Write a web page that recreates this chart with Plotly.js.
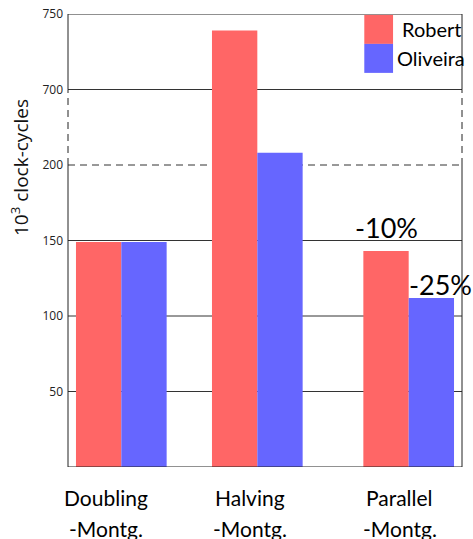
<!DOCTYPE html>
<html>
<head>
<meta charset="utf-8">
<script src="https://cdn.plot.ly/plotly-3.0.1.min.js"></script>
<style>html,body{margin:0;padding:0;background:#fff;}#chart{width:473px;height:539px;}</style>
</head>
<body>
<div id="chart"></div>
<script>
// ---- data ----
const categories = ['Doubling<br>-Montg.', 'Halving<br>-Montg.', 'Parallel<br>-Montg.'];
const seriesNames = ['Robert', 'Oliveira'];
const robert = [149, 739, 143];
const oliveira = [149, 281, 112];
const yTickValues = [50, 100, 150, 200, 700, 750];
const reductionLabels = ['-10%', '-25%'];
const yTitle = '10<sup>3</sup> clock-cycles';

// ---- layout helpers ----
const colors = ['#ff6666', '#6666ff'];
const groupPos = [0, 1, 2.113];
const labelShift = [-15, -7, -9];
const BREAK_LO = 200, BREAK_HI = 700;
function tf(v) {
  if (v <= BREAK_LO) return v;
  if (v <= BREAK_HI) return BREAK_LO + (v - BREAK_LO) * 50 / (BREAK_HI - BREAK_LO);
  return BREAK_LO + 50 + (v - BREAK_HI);
}
const yTop = tf(750);
const labelFont = 'Lato, "Open Sans", sans-serif';

const traces = [robert, oliveira].map((vals, i) => ({
  type: 'bar',
  name: seriesNames[i],
  x: groupPos,
  y: vals.map(tf),
  marker: {color: colors[i], line: {width: 0}},
  hoverinfo: 'skip',
  showlegend: false
}));

const lineCol = '#222';
const gridCol = '#333';
const shapes = [];
[50, 100, 150, 700].forEach(v => shapes.push({type: 'line', xref: 'paper', x0: 0, x1: 1, yref: 'y', y0: tf(v), y1: tf(v), layer: 'below', line: {color: gridCol, width: 1}}));
shapes.push({type: 'line', xref: 'paper', x0: 0, x1: 1, yref: 'y', y0: tf(200), y1: tf(200), layer: 'below', line: {color: gridCol, width: 1, dash: '7px,5px'}});
shapes.push({type: 'line', xref: 'paper', x0: 0, x1: 1, yref: 'y', y0: yTop, y1: yTop, line: {color: lineCol, width: 1}});
shapes.push({type: 'line', xref: 'paper', x0: 0, x1: 1, yref: 'y', y0: 0, y1: 0, line: {color: lineCol, width: 1}});
[0, 1].forEach(px => {
  shapes.push({type: 'line', xref: 'paper', x0: px, x1: px, yref: 'y', y0: 0, y1: tf(200), line: {color: lineCol, width: 1}});
  shapes.push({type: 'line', xref: 'paper', x0: px, x1: px, yref: 'y', y0: tf(200), y1: tf(700), line: {color: lineCol, width: 1, dash: '7px,5px'}});
  shapes.push({type: 'line', xref: 'paper', x0: px, x1: px, yref: 'y', y0: tf(700), y1: yTop, line: {color: lineCol, width: 1}});
});
const legX0 = 0.752, legX1 = 0.825;
const legY = [0.998, 0.934, 0.870];
seriesNames.forEach((n, i) => {
  shapes.push({type: 'rect', xref: 'paper', yref: 'paper', x0: legX0, x1: legX1, y0: legY[i + 1], y1: legY[i], fillcolor: colors[i], line: {width: 0}});
});

const annotations = [];
seriesNames.forEach((n, i) => {
  annotations.push({xref: 'paper', yref: 'paper', x: 0.9225, y: (legY[i] + legY[i + 1]) / 2, text: n, showarrow: false,
    xanchor: 'center', yanchor: 'middle', font: {family: labelFont, size: 20, color: '#000'}});
});
annotations.push({x: groupPos[2] - 1 / 6, y: tf(robert[2]), yshift: 24, text: reductionLabels[0], showarrow: false,
  xanchor: 'center', yanchor: 'middle', font: {family: labelFont, size: 27, color: '#000'}});
annotations.push({x: groupPos[2], y: tf(oliveira[2]), yshift: 13, text: reductionLabels[1], showarrow: false,
  xanchor: 'left', yanchor: 'middle', xshift: -2, font: {family: labelFont, size: 27, color: '#000'}});
// category labels (two lines each)
categories.forEach((c, i) => {
  c.split('<br>').forEach((line, j) => {
    annotations.push({x: groupPos[i], xshift: labelShift[i], yref: 'paper', y: 0, yshift: -30 - 31 * j,
      text: line, showarrow: false, xanchor: 'center', yanchor: 'middle',
      font: {family: labelFont, size: 21, color: '#000'}});
  });
});
// y title
annotations.push({xref: 'paper', yref: 'paper', x: -0.122, y: 0.662, text: yTitle, textangle: -90, showarrow: false,
  xanchor: 'center', yanchor: 'middle', font: {family: '"Open Sans", sans-serif', size: 19, color: '#111'}});

const layout = {
  width: 473, height: 539,
  margin: {l: 68, r: 11, t: 14, b: 72, pad: 0},
  paper_bgcolor: '#fff', plot_bgcolor: '#fff',
  barmode: 'group', bargap: 1 / 3, bargroupgap: 0,
  showlegend: false,
  xaxis: {
    range: [-0.392, 2.505], tickvals: groupPos, showticklabels: false,
    showgrid: false, zeroline: false, showline: false, ticks: ''
  },
  yaxis: {
    range: [0, yTop], tickvals: yTickValues.map(tf), ticktext: yTickValues.map(String),
    showgrid: false, zeroline: false, showline: false, ticks: '',
    tickfont: {family: '"Open Sans", sans-serif', size: 12, color: '#222'},
    ticklabelstandoff: 4
  },
  shapes: shapes,
  annotations: annotations
};

Plotly.newPlot('chart', traces, layout, {displayModeBar: false, staticPlot: true});
</script>
</body>
</html>
